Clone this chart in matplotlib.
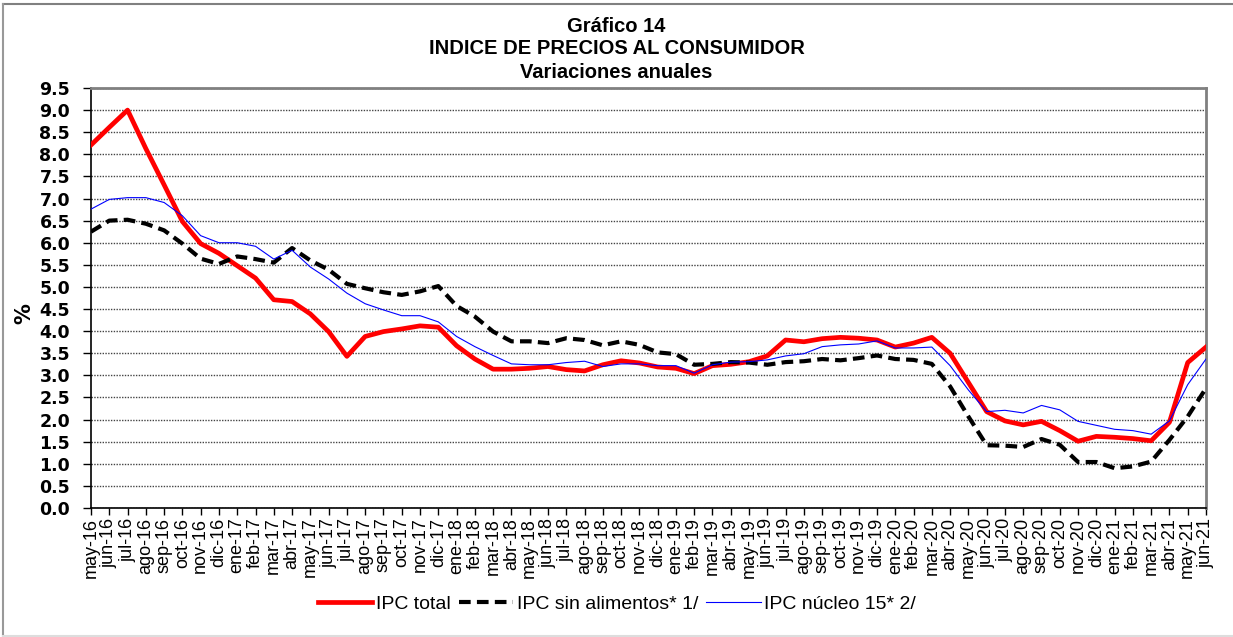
import numpy as np
import matplotlib
matplotlib.use("Agg")
import matplotlib.pyplot as plt
from matplotlib.lines import Line2D

plt.rcParams["font.family"] = ["Liberation Sans", "DejaVu Sans"]

meses = ["may-16", "jun-16", "jul-16", "ago-16", "sep-16", "oct-16", "nov-16", "dic-16",
         "ene-17", "feb-17", "mar-17", "abr-17", "may-17", "jun-17", "jul-17", "ago-17",
         "sep-17", "oct-17", "nov-17", "dic-17",
         "ene-18", "feb-18", "mar-18", "abr-18", "may-18", "jun-18", "jul-18", "ago-18",
         "sep-18", "oct-18", "nov-18", "dic-18",
         "ene-19", "feb-19", "mar-19", "abr-19", "may-19", "jun-19", "jul-19", "ago-19",
         "sep-19", "oct-19", "nov-19", "dic-19",
         "ene-20", "feb-20", "mar-20", "abr-20", "may-20", "jun-20", "jul-20", "ago-20",
         "sep-20", "oct-20", "nov-20", "dic-20",
         "ene-21", "feb-21", "mar-21", "abr-21", "may-21", "jun-21"]

ipc_total = [8.21, 8.61, 9.00, 8.13, 7.31, 6.48, 5.98, 5.76, 5.48, 5.20, 4.71, 4.67,
             4.39, 3.99, 3.43, 3.88, 3.99, 4.05, 4.12, 4.09, 3.67, 3.37, 3.14, 3.14,
             3.16, 3.20, 3.13, 3.10, 3.24, 3.33, 3.28, 3.19, 3.16, 3.04, 3.22, 3.25,
             3.31, 3.44, 3.80, 3.76, 3.83, 3.86, 3.84, 3.80, 3.64, 3.73, 3.86, 3.50,
             2.84, 2.18, 1.97, 1.88, 1.96, 1.75, 1.51, 1.62, 1.60, 1.57, 1.52, 1.94,
             3.29, 3.64]

ipc_sin_alim = [6.25, 6.50, 6.52, 6.43, 6.28, 5.98, 5.64, 5.52, 5.69, 5.63, 5.55, 5.88,
                5.60, 5.39, 5.07, 4.97, 4.88, 4.82, 4.90, 5.02, 4.57, 4.33, 3.99, 3.77,
                3.77, 3.73, 3.84, 3.80, 3.68, 3.77, 3.69, 3.52, 3.48, 3.24, 3.26, 3.30,
                3.29, 3.24, 3.30, 3.32, 3.37, 3.34, 3.39, 3.45, 3.37, 3.35, 3.26, 2.75,
                2.07, 1.42, 1.41, 1.38, 1.56, 1.43, 1.04, 1.04, 0.90, 0.94, 1.05, 1.54,
                2.07, 2.71]

ipc_nucleo = [6.76, 6.98, 7.02, 7.02, 6.91, 6.61, 6.16, 6.00, 6.00, 5.92, 5.63, 5.83,
              5.45, 5.18, 4.86, 4.62, 4.48, 4.35, 4.35, 4.21, 3.88, 3.65, 3.45, 3.26,
              3.24, 3.24, 3.29, 3.32, 3.20, 3.26, 3.26, 3.22, 3.22, 3.05, 3.24, 3.30,
              3.31, 3.35, 3.44, 3.49, 3.65, 3.69, 3.71, 3.78, 3.62, 3.62, 3.64, 3.22,
              2.67, 2.18, 2.21, 2.15, 2.32, 2.22, 1.96, 1.87, 1.78, 1.75, 1.67, 1.97,
              2.79, 3.37]

x = np.arange(len(meses))
yt = np.arange(0, 9.51, 0.5)

fig = plt.figure(figsize=(12.33, 6.37), dpi=100)
ax = fig.add_axes([91 / 1233, 1 - 508 / 637, (1206 - 91) / 1233, (508 - 88) / 637])

ax.plot(x, ipc_total, color="#FF0000", lw=3.4, label="IPC total", zorder=3)
ax.plot(x, ipc_sin_alim, color="black", lw=3.0, dashes=(2.8, 1.5),
        label="IPC sin alimentos* 1/", zorder=4)
ax.plot(x, ipc_nucleo, color="#0000FF", lw=0.8, label="IPC núcleo 15* 2/", zorder=5)

ax.set_xlim(0, len(meses) - 1)
ax.set_ylim(0, 9.5)
ax.set_yticks(yt)
ax.set_yticklabels([f"{v:.1f}" for v in yt], fontsize=12.5, fontweight="bold",
                   family="DejaVu Sans")
ax.set_xticks(x)
ax.set_xticklabels(meses, rotation=90, fontsize=13)
ax.tick_params(axis="x", length=5, width=1, pad=2, direction="out")
ax.tick_params(axis="y", length=6, width=1, pad=9, direction="out")

ax.grid(axis="y", color="#444444", linestyle=(0, (1, 1)), linewidth=1.0)
ax.set_axisbelow(True)

for s in ["top", "right"]:
    ax.spines[s].set_color("#808080")
    ax.spines[s].set_linewidth(2)
for s in ["left", "bottom"]:
    ax.spines[s].set_color("black")
    ax.spines[s].set_linewidth(1.2)

ax.set_ylabel("%", fontsize=15, fontweight="bold", family="DejaVu Sans")
ax.yaxis.set_label_coords(-0.051, 0.464)

for yy, txt in [(27, "Gráfico 14"), (49, "INDICE DE PRECIOS AL CONSUMIDOR"),
                (72, "Variaciones anuales")]:
    fig.text(0.5, 1 - yy / 637, txt, ha="center", va="center",
             fontsize=14.5, fontweight="bold")

fig.legend(loc="center", bbox_to_anchor=(617 / 1233, 1 - 604 / 637), ncol=3,
           frameon=False, fontsize=14, handlelength=2.8, handletextpad=0.2,
           columnspacing=0.4)

# outer chart frame
fig.add_artist(Line2D([3 / 1233, 1.01], [1 - 4 / 637] * 2, color="#808080", lw=1.5))
fig.add_artist(Line2D([3 / 1233] * 2, [1 - 4 / 637, 1 / 637], color="#999999", lw=1.5))
fig.add_artist(Line2D([3 / 1233, 1.01], [1 / 637] * 2, color="#DDDDDD", lw=1.5))

fig.savefig("out.png", dpi=100)
